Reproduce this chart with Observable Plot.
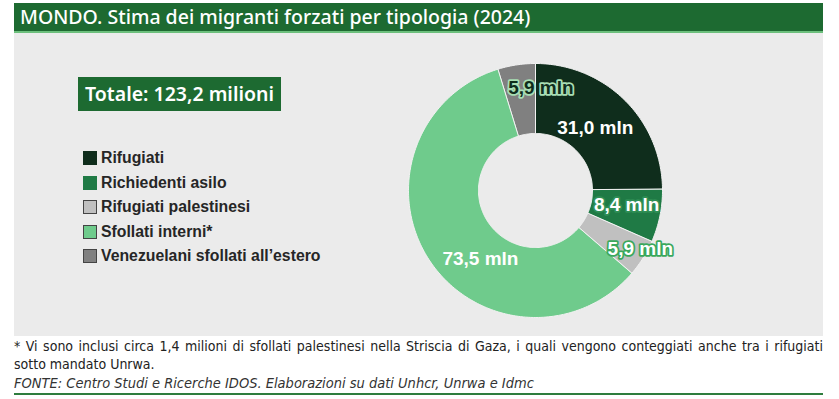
<!DOCTYPE html>
<html>
<head>
<meta charset="utf-8">
<script src="https://cdn.jsdelivr.net/npm/d3@7"></script>
<script src="https://cdn.jsdelivr.net/npm/@observablehq/plot@0.6"></script>
<style>
  html, body { margin: 0; padding: 0; background: #ffffff; }
  body { width: 839px; height: 399px; position: relative; overflow: hidden; font-family: "Liberation Sans", Arial, sans-serif; }
  #title { position: absolute; left: 14px; top: 3px; width: 809px; height: 28px; background: #1d6a31;
    border-bottom: 2px solid #6cbf7c; color: #fff; font-family: "Noto Sans", sans-serif; font-weight: 500;
    font-size: 19.5px; line-height: 28px; box-sizing: content-box; }
  #title span { position: absolute; left: 6px; top: 0; }
  #panel { position: absolute; left: 14px; top: 33px; width: 809px; height: 303px; background: #ebebeb; }
  #chart { position: absolute; left: 0; top: 0; }
  #totale { position: absolute; left: 64px; top: 44px; width: 203px; height: 34px; background: #1d6a31; color: #fff;
    font-family: "Noto Sans", sans-serif; font-weight: 600; font-size: 19.5px; line-height: 34px; text-align: center; }
  #legend { position: absolute; left: 69px; top: 115px; }
  .item { position: absolute; left: 0; height: 20px; white-space: nowrap; font-family: "Liberation Sans", Arial, sans-serif;
    font-weight: bold; font-size: 15.8px; color: #262626; line-height: 20px; }
  .sw { position: absolute; left: 0; top: 3px; width: 14px; height: 14px; box-sizing: border-box; }
  .item span.t { position: absolute; left: 18px; top: 0; }
  #note { position: absolute; left: 14px; top: 337px; width: 809px; font-family: "Liberation Sans Narrow", "DejaVu Sans Condensed", Roboto, sans-serif;
    font-size: 14px; line-height: 18px; color: #222; text-align: justify; }
  #source { position: absolute; left: 14px; top: 375px; width: 809px; font-family: "Liberation Sans Narrow", "DejaVu Sans Condensed", Roboto, sans-serif;
    font-style: italic; font-size: 14.5px; line-height: 17px; color: #333; }
  #rule { position: absolute; left: 14px; top: 393px; width: 809px; height: 2px; background: #2e7d3e; }
</style>
</head>
<body>
<div id="title"><span>MONDO. Stima dei migranti forzati per tipologia (2024)</span></div>
<div id="panel">
  <div id="chart"></div>
  <div id="totale"></div>
  <div id="legend"></div>
</div>
<div id="note">* Vi sono inclusi circa 1,4 milioni di sfollati palestinesi nella Striscia di Gaza, i quali vengono conteggiati anche tra i rifugiati sotto mandato Unrwa.</div>
<div id="source">FONTE: Centro Studi e Ricerche IDOS. Elaborazioni su dati Unhcr, Unrwa e Idmc</div>
<div id="rule"></div>
<script>
// ---- data ----
const categories = ["Rifugiati", "Richiedenti asilo", "Rifugiati palestinesi", "Sfollati interni*", "Venezuelani sfollati all\u2019estero"];
const values = [31.0, 8.4, 5.9, 73.5, 5.9];
const valueLabels = ["31,0 mln", "8,4 mln", "5,9 mln", "73,5 mln", "5,9 mln"];
const totalLabel = "Totale: 123,2 milioni";

// ---- styles ----
const colors = ["#0f2d1c", "#1f7a45", "#c0c0c0", "#6fcb8c", "#808080"];
const swatchBorder = [null, null, "#444", "#444", "#444"];
const labelFill = ["#ffffff", "#ffffff", "#ffffff", "#ffffff", "#0f2d1c"];
const labelHalo = [null, "#2f8f55", "#3aa85c", null, "#a8deb4"];
const labelNudge = [[-5, 3], [1, -4], [27, 9], [22, 18], [19, -12]];

const innerRatio = 57 / 127;

document.getElementById("totale").textContent = totalLabel;
const legend = document.getElementById("legend");
categories.forEach((c, i) => {
  const it = document.createElement("div");
  it.className = "item";
  it.style.top = (i * 24.5) + "px";
  const sw = document.createElement("div");
  sw.className = "sw";
  sw.style.background = colors[i];
  if (swatchBorder[i]) sw.style.border = "1px solid " + swatchBorder[i];
  const t = document.createElement("span");
  t.className = "t";
  t.textContent = c;
  it.appendChild(sw); it.appendChild(t);
  legend.appendChild(it);
});

const arcs = d3.pie().sort(null).startAngle(0).endAngle(2 * Math.PI)(values);
const pts = [];
arcs.forEach((a, i) => {
  const n = Math.max(8, Math.ceil((a.endAngle - a.startAngle) / 0.02));
  for (let k = 0; k <= n; k++) {
    const t = a.startAngle + (a.endAngle - a.startAngle) * k / n;
    pts.push({cat: categories[i], x: Math.sin(t), y: Math.cos(t)});
  }
  for (let k = n; k >= 0; k--) {
    const t = a.startAngle + (a.endAngle - a.startAngle) * k / n;
    pts.push({cat: categories[i], x: innerRatio * Math.sin(t), y: innerRatio * Math.cos(t)});
  }
});
const labels = arcs.map((a, i) => {
  const m = (a.startAngle + a.endAngle) / 2;
  const r = (1 + innerRatio) / 2;
  return {i, text: valueLabels[i], x: r * Math.sin(m), y: r * Math.cos(m)};
});

const cx = 521, cy = 157, R = 127;
const textMarks = labels.map(d => Plot.text([d], {
  x: "x", y: "y", text: "text",
  dx: labelNudge[d.i][0], dy: labelNudge[d.i][1],
  fill: labelFill[d.i],
  stroke: labelHalo[d.i] || "none",
  strokeWidth: labelHalo[d.i] ? 3.5 : 0,
  fontSize: 19, fontWeight: "bold",
  fontFamily: "Liberation Sans, Arial, sans-serif"
}));

const chart = Plot.plot({
  width: 809, height: 303, margin: 0,
  style: {background: "transparent", overflow: "visible"},
  x: {domain: [-1, 1], range: [cx - R, cx + R], axis: null},
  y: {domain: [-1, 1], range: [cy + R, cy - R], axis: null},
  color: {domain: categories, range: colors},
  marks: [
    Plot.line(pts, {x: "x", y: "y", z: "cat", fill: "cat", stroke: "#f2f2f2", strokeWidth: 1, curve: "linear-closed"}),
    ...textMarks
  ]
});
document.getElementById("chart").appendChild(chart);
</script>
</body>
</html>
